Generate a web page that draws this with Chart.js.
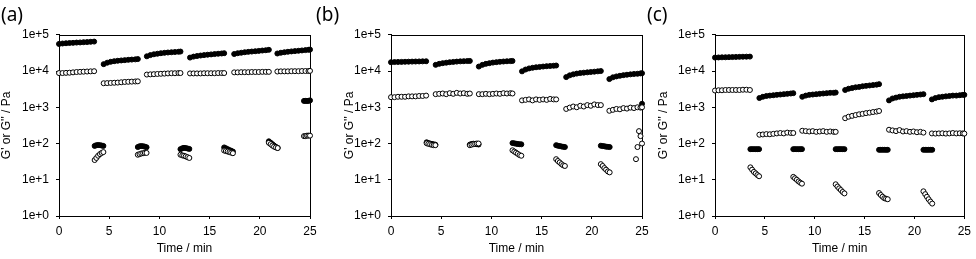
<!DOCTYPE html>
<html>
<head>
<meta charset="utf-8">
<script src="https://cdn.jsdelivr.net/npm/chart.js@4.4.1/dist/chart.umd.min.js"></script>
<style>
  html, body { margin: 0; padding: 0; background: #fff; }
  body { width: 976px; height: 259px; position: relative; overflow: hidden; }
  canvas { position: absolute; top: 0; }
</style>
</head>
<body>
<canvas id="chartA" width="321" height="259" style="left:1px"></canvas>
<canvas id="chartB" width="338" height="259" style="left:316px"></canvas>
<canvas id="chartC" width="329" height="259" style="left:647px"></canvas>
<script>
// time (min), shared by all three panels: rest blocks (H) and high-strain blocks (L)
const times = [
  0, 0.35, 0.7, 1.05, 1.4, 1.75, 2.1, 2.45, 2.8, 3.15, 3.5,                 // H1
  3.55, 3.72, 3.9, 4.08, 4.25, 4.42,                                      // L1
  4.45, 4.8, 5.15, 5.5, 5.85, 6.2, 6.55, 6.9, 7.25, 7.6, 7.85,            // H2
  7.85, 8.02, 8.2, 8.38, 8.55, 8.72,                                      // L2
  8.75, 9.1, 9.45, 9.8, 10.15, 10.5, 10.85, 11.2, 11.55, 11.9, 12.1,      // H3
  12.1, 12.28, 12.45, 12.62, 12.8, 12.98,                                 // L3
  13.05, 13.4, 13.75, 14.1, 14.45, 14.8, 15.15, 15.5, 15.85, 16.2, 16.45, // H4
  16.45, 16.62, 16.8, 16.98, 17.15, 17.32,                                // L4
  17.45, 17.8, 18.15, 18.5, 18.85, 19.2, 19.55, 19.9, 20.25, 20.6, 20.9,  // H5
  20.9, 21.08, 21.25, 21.42, 21.6, 21.78,                                 // L5
  21.75, 22.1, 22.45, 22.8, 23.15, 23.5, 23.85, 24.2, 24.55, 24.85, 25.0, // H6
  24.4, 24.55, 24.7, 24.85, 25.0                                          // L6
];

// (a) G' and G''
const storageA = [
  56000, 57500, 58500, 59500, 60000, 61000, 61500, 62500, 63000, 64000, 65000,
  86, 90, 91, 90, 88, 86,
  15500, 17000, 18000, 18700, 19200, 19600, 20000, 20400, 20700, 21000, 21400,
  80, 84, 85, 84, 82, 79,
  25500, 27500, 29000, 30000, 31000, 31800, 32500, 33000, 33500, 34000, 34500,
  70, 74, 76, 75, 73, 71,
  23500, 25000, 26000, 26800, 27500, 28200, 28800, 29400, 30000, 30500, 31000,
  78, 74, 70, 66, 63, 60,
  29500, 31000, 32000, 33000, 33800, 34500, 35200, 36000, 36800, 37500, 38500,
  115, 105, 96, 88, 81, 76,
  30500, 32000, 33000, 34000, 34800, 35500, 36200, 37000, 37800, 38500, 39000,
  1500, 1500, 1500, 1500, 1550
];
const lossA = [
  8800, 8800, 8900, 9000, 9200, 9400, 9500, 9600, 9700, 9800, 9900,
  35, 40, 46, 51, 55, 58,
  4600, 4650, 4700, 4750, 4800, 4900, 5000, 5050, 5100, 5150, 5200,
  49, 51, 53, 54, 55, 55,
  8000, 8100, 8200, 8300, 8400, 8500, 8600, 8700, 8700, 8800, 8800,
  49, 47, 46, 44, 42, 40,
  8600, 8600, 8600, 8600, 8700, 8700, 8700, 8700, 8800, 8800, 8800,
  64, 62, 60, 58, 56, 54,
  9200, 9200, 9300, 9300, 9300, 9400, 9400, 9400, 9500, 9500, 9500,
  105, 96, 88, 82, 78, 75,
  9700, 9800, 9800, 9800, 9900, 9900, 9900, 10000, 10000, 10000, 10100,
  160, 160, 165, 165, 165
];

// (b)
const storageB = [
  17500, 17700, 17800, 17900, 18000, 18100, 18200, 18300, 18400, 18500, 18600,
  108, 103, 100, 97, 95, 93,
  14800, 15800, 16500, 17000, 17500, 17900, 18200, 18500, 18700, 18900, 19000,
  93, 97, 99, 98, 96, 94,
  13300, 14800, 15800, 16500, 17100, 17600, 18000, 18300, 18600, 18800, 19000,
  103, 101, 99, 97, 96, 95,
  9800, 11000, 11800, 12300, 12700, 13000, 13300, 13600, 13800, 14000, 14200,
  90, 87, 85, 83, 81, 80,
  6800, 7600, 8100, 8500, 8800, 9000, 9200, 9400, 9600, 9800, 10000,
  87, 85, 84, 82, 81, 80,
  6000, 6700, 7100, 7400, 7700, 7900, 8100, 8300, 8400, 8600, 8700,
  null, null, null, null, 1250
];
const lossB = [
  1900, 1900, 1950, 1950, 1950, 2000, 2000, 2000, 2050, 2050, 2100,
  102, 98, 95, 92, 90, 90,
  2300, 2350, 2400, 2300, 2450, 2350, 2500, 2400, 2450, 2350, 2400,
  90, 93, 96, 98, 100, 100,
  2300, 2300, 2350, 2300, 2350, 2400, 2350, 2450, 2400, 2450, 2400,
  65, 60, 56, 52, 48, 46,
  1550, 1600, 1650, 1550, 1650, 1600, 1650, 1600, 1700, 1650, 1650,
  37, 33, 30, 27, 25, 24,
  900, 980, 1050, 1000, 1100, 1050, 1150, 1100, 1200, 1150, 1150,
  27, 24, 21, 19, 17, 16,
  800, 850, 900, 880, 950, 920, 980, 950, 1000, 980, 1000,
  37, 80, 220, 160, 100
];

// (c)
const storageC = [
  23500, 23700, 23900, 24000, 24200, 24300, 24500, 24600, 24800, 24900, 25000,
  70, 70, 70, 70, 70, 70,
  1800, 1950, 2050, 2100, 2150, 2200, 2250, 2300, 2350, 2400, 2450,
  70, 70, 70, 70, 70, 70,
  1950, 2100, 2200, 2250, 2300, 2350, 2400, 2450, 2500, 2500, 2550,
  70, 70, 70, 70, 70, 70,
  3000, 3250, 3400, 3550, 3650, 3800, 3900, 4000, 4100, 4200, 4350,
  67, 67, 67, 67, 67, 67,
  1550, 1750, 1850, 1950, 2000, 2050, 2100, 2150, 2200, 2250, 2300,
  67, 67, 67, 67, 67, 67,
  1650, 1800, 1900, 1950, 2000, 2050, 2100, 2100, 2150, 2200, 2200,
  null, null, null, null, null
];
const lossC = [
  2900, 2950, 2950, 3000, 3000, 3000, 3000, 3000, 3050, 3050, 3000,
  22, 19, 16.5, 15, 13.5, 12.5,
  175, 178, 182, 180, 185, 190, 195, 190, 200, 195, 195,
  12, 11, 10, 9, 8.3, 7.8,
  225, 220, 215, 220, 210, 215, 220, 210, 215, 210, 210,
  7.5, 6.5, 5.8, 5.2, 4.6, 4.2,
  500, 550, 580, 610, 640, 660, 690, 710, 740, 760, 790,
  4.3, 3.8, 3.4, 3.1, 3.0, 2.9,
  240, 230, 220, 235, 215, 220, 210, 215, 205, 210, 200,
  4.8, 4.0, 3.4, 2.9, 2.5, 2.2,
  190, 188, 190, 192, 188, 190, 195, 190, 192, 190, 188,
  null, null, null, null, null
];

const yTicks = [1, 10, 100, 1000, 10000, 100000];
const yTickLabels = ['1e+0', '1e+1', '1e+2', '1e+3', '1e+4', '1e+5'];

Chart.defaults.font.family = "'Liberation Sans', Arial, sans-serif";
Chart.defaults.font.size = 12;
Chart.defaults.color = '#000';

// box round the plot area
const frame = {
  id: 'frame',
  beforeDatasetsDraw(chart) {
    const { ctx, chartArea: a } = chart;
    ctx.save();
    ctx.strokeStyle = '#000';
    ctx.lineWidth = 1;
    ctx.strokeRect(Math.round(a.left) + 0.5, Math.round(a.top) + 0.5,
      Math.round(a.right - a.left), Math.round(a.bottom - a.top));
    ctx.restore();
  }
};

function points(values) {
  return times.map((t, i) => ({ x: t, y: values[i] }));
}

function makeChart(id, title, storage, loss, yWidth, yTitlePad, padRight) {
  new Chart(document.getElementById(id), {
    type: 'scatter',
    data: {
      datasets: [
        {
          label: "G''",
          data: points(loss),
          pointStyle: 'circle',
          pointRadius: 2.5,
          backgroundColor: '#fff',
          borderColor: '#000',
          borderWidth: 1,
          clip: false
        },
        {
          label: "G'",
          data: points(storage),
          pointStyle: 'circle',
          pointRadius: 2.5,
          backgroundColor: '#000',
          borderColor: '#000',
          borderWidth: 1,
          clip: false
        }
      ]
    },
    options: {
      responsive: false,
      animation: false,
      layout: { padding: { left: 0, top: 0, bottom: 0, right: padRight } },
      plugins: {
        legend: { display: false },
        tooltip: { enabled: false },
        title: {
          display: true,
          text: title,
          align: 'start',
          color: '#000',
          font: { family: "'Noto Sans', sans-serif", size: 19, weight: 'normal' },
          padding: { top: 4, bottom: 8 }
        }
      },
      scales: {
        x: {
          type: 'linear',
          min: 0,
          max: 25,
          ticks: { stepSize: 5, padding: 5, maxRotation: 0 },
          grid: { drawOnChartArea: false, tickLength: 3, tickColor: '#000' },
          border: { display: true, color: '#000' },
          title: { display: true, text: 'Time / min', padding: { top: 0, bottom: 3 } },
          afterFit: (s) => { s.height = 43; }
        },
        y: {
          type: 'logarithmic',
          min: 1,
          max: 100000,
          afterBuildTicks: (s) => { s.ticks = yTicks.map((v) => ({ value: v })); },
          ticks: { padding: 7, callback: (v, i) => yTickLabels[i] },
          grid: { drawOnChartArea: false, tickLength: 3, tickColor: '#000' },
          border: { display: true, color: '#000' },
          title: {
            display: true,
            text: "G' or G'' / Pa",
            font: { lineHeight: 1 },
            padding: { top: yTitlePad, bottom: 0 }
          },
          afterFit: (s) => { s.width = yWidth; }
        }
      }
    },
    plugins: [frame]
  });
}

makeChart('chartA', '(a)', storageA, lossA, 58, 0, 12);
makeChart('chartB', '(b)', storageB, lossB, 75, 28, 12);
makeChart('chartC', '(c)', storageC, lossC, 68, 11, 9);
</script>
</body>
</html>
